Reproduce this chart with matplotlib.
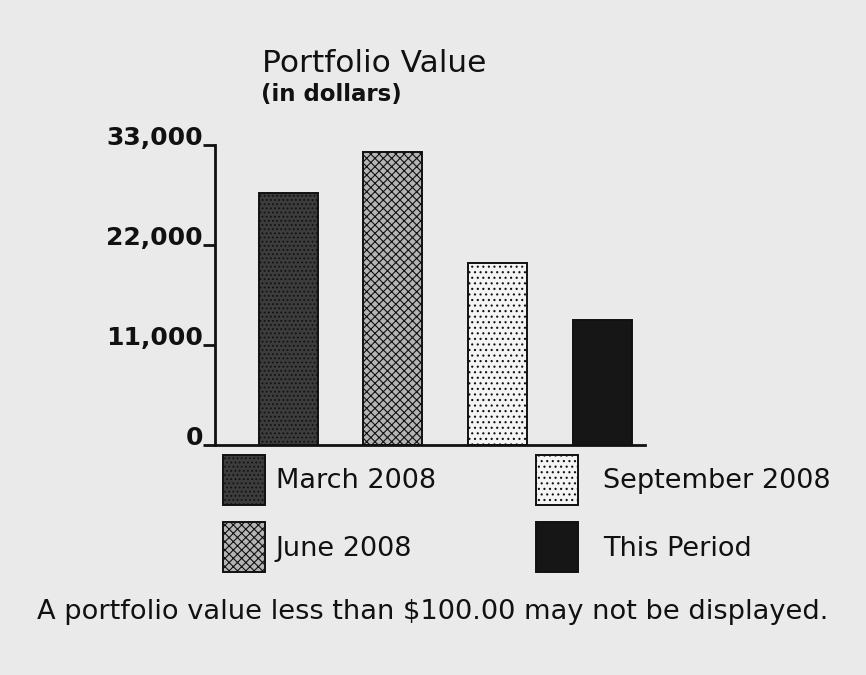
import matplotlib
matplotlib.use("Agg")
import matplotlib.pyplot as plt

# data
periods = ["March 2008", "June 2008", "September 2008", "This Period"]
values = [27700, 32200, 20000, 13750]
tick_values = [0, 11000, 22000, 33000]
tick_labels = ["0", "11,000", "22,000", "33,000"]

faces = ["#3c3c3c", "#b4b4b4", "#f4f4f4", "#161616"]
hatches = ["....", "xxxx", "...", None]

plt.rcParams["font.family"] = ["DejaVu Sans"]
plt.rcParams["hatch.linewidth"] = 0.8
bg = "#eaeaea"

fig = plt.figure(figsize=(8.66, 6.75), dpi=100, facecolor=bg)
W, H = 866, 675
# axes placed in pixel coordinates of the reference
x0, x1, ybase, ytop = 215, 645, 445, 145
ax = fig.add_axes([x0 / W, (H - ybase) / H, (x1 - x0) / W, (ybase - ytop) / H])
ax.set_facecolor("none")

xs = range(len(values))
bars = ax.bar(xs, values, width=0.565, color=faces, edgecolor="#111111",
              linewidth=1.4, zorder=2)
for b, h in zip(bars, hatches):
    if h:
        b.set_hatch(h)

ax.set_xlim(-0.70, 3.41)
ax.set_ylim(0, 33000)
ax.set_xticks([])
ax.set_yticks(tick_values)
ax.set_yticklabels(tick_labels, fontsize=18, fontweight="bold")
for lab in ax.get_yticklabels():
    lab.set_va("baseline")
ax.tick_params(axis="y", direction="out", length=8.6, width=2, pad=0, colors="#111111")

for s in ["top", "right"]:
    ax.spines[s].set_visible(False)
for s in ["left", "bottom"]:
    ax.spines[s].set_linewidth(2)
    ax.spines[s].set_color("#111111")

fig.text(262 / W, 1 - 49 / H, "Portfolio Value", fontsize=22.5, ha="left", va="top",
         color="#111111")
fig.text(261 / W, 1 - 83 / H, "(in dollars)", fontsize=16.5, fontweight="bold",
         ha="left", va="top", color="#111111")

# two legend columns, placed separately as in the reference
handles = list(bars.patches)
leg_kw = dict(loc="upper left", frameon=False, fontsize=19.5, handlelength=1.55,
              handleheight=2.47, labelspacing=0.63, borderpad=0, borderaxespad=0)
leg1 = fig.legend(handles=handles[:2], labels=periods[:2],
                  bbox_to_anchor=(223 / W, 1 - 455 / H), handletextpad=0.4, **leg_kw)
leg2 = fig.legend(handles=handles[2:], labels=periods[2:],
                  bbox_to_anchor=(536 / W, 1 - 455 / H), handletextpad=0.92, **leg_kw)
for leg in (leg1, leg2):
    for t in leg.get_texts():
        t.set_color("#111111")

fig.text(433 / W, 1 - 612 / H,
         "A portfolio value less than $100.00 may not be displayed.",
         fontsize=19.6, ha="center", va="center", color="#111111")

fig.savefig("out.png", dpi=100, facecolor=bg)
